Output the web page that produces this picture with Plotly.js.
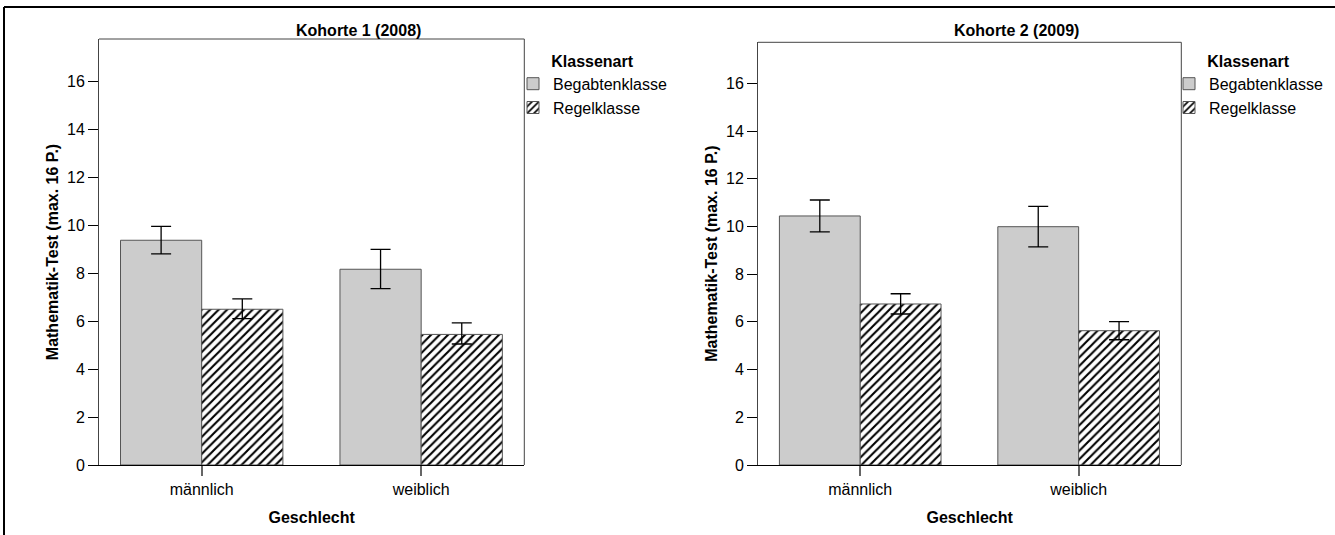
<!DOCTYPE html>
<html>
<head>
<meta charset="utf-8">
<script src="https://cdn.plot.ly/plotly-3.0.1.min.js"></script>
<style>html,body{margin:0;padding:0;background:#fff;}#chart{width:1335px;height:535px;}</style>
</head>
<body>
<div id="chart"></div>
<script>
// ---- data ----
const categories = ["männlich", "weiblich"];
const seriesNames = ["Begabtenklasse", "Regelklasse"];

// Kohorte 1 (2008)
const k1Begabten = [9.38, 8.17];
const k1BegabtenLow = [8.81, 7.36];
const k1BegabtenHigh = [9.96, 9.00];
const k1Regel = [6.50, 5.45];
const k1RegelLow = [6.11, 5.05];
const k1RegelHigh = [6.93, 5.93];

// Kohorte 2 (2009)
const k2Begabten = [10.44, 9.99];
const k2BegabtenLow = [9.77, 9.14];
const k2BegabtenHigh = [11.11, 10.84];
const k2Regel = [6.75, 5.63];
const k2RegelLow = [6.33, 5.25];
const k2RegelHigh = [7.18, 6.01];

const panelTitles = ["Kohorte 1 (2008)", "Kohorte 2 (2009)"];
const yTitle = "Mathematik-Test (max. 16 P.)";
const xTitle = "Geschlecht";
const legendTitle = "Klassenart";
const yTickVals = [0, 2, 4, 6, 8, 10, 12, 14, 16];

// ---- helpers ----
const FONT = "Liberation Sans, Arial, Helvetica, sans-serif";
function errBar(mean, low, high) {
  return {
    type: "data", symmetric: false,
    array: high.map((h, i) => h - mean[i]),
    arrayminus: mean.map((m, i) => m - low[i]),
    color: "#000", thickness: 1.3, width: 10
  };
}
function barTrace(name, vals, low, high, axis, legend, hatched, show) {
  const marker = hatched
    ? {color: "#ffffff", line: {color: "#555", width: 1},
       pattern: {shape: "/", fgcolor: "#000", bgcolor: "#ffffff", size: 6, solidity: 0.35, fillmode: "replace"}}
    : {color: "#cccccc", line: {color: "#555", width: 1}};
  return {
    type: "bar", name: name, x: categories, y: vals,
    xaxis: axis[0], yaxis: axis[1], legend: legend,
    marker: marker, error_y: errBar(vals, low, high),
    showlegend: show, hoverinfo: "skip"
  };
}

const traces = [
  barTrace(seriesNames[0], k1Begabten, k1BegabtenLow, k1BegabtenHigh, ["x", "y"], "legend", false, true),
  barTrace(seriesNames[1], k1Regel, k1RegelLow, k1RegelHigh, ["x", "y"], "legend", true, true),
  barTrace(seriesNames[0], k2Begabten, k2BegabtenLow, k2BegabtenHigh, ["x2", "y2"], "legend2", false, true),
  barTrace(seriesNames[1], k2Regel, k2RegelLow, k2RegelHigh, ["x2", "y2"], "legend2", true, true)
];

const W = 1335, H = 535;
function xaxisCfg(domain) {
  return {
    domain: domain, type: "category", range: [-0.468, 1.47],
    showline: true, linecolor: "#000", linewidth: 1, mirror: false,
    ticks: "outside", ticklen: 10, tickwidth: 2, tickcolor: "#666",
    tickfont: {family: FONT, size: 16, color: "#000"},
    title: {text: "<b>" + xTitle + "</b>", font: {family: FONT, size: 16, color: "#000"}, standoff: 14},
    showgrid: false, zeroline: false, fixedrange: true, automargin: false
  };
}
function yaxisCfg(domain, top, anchor) {
  return {
    domain: domain, range: [0, top], anchor: anchor,
    tickvals: yTickVals, ticktext: yTickVals.map(String),
    showline: true, linecolor: "#444", linewidth: 1, mirror: false,
    ticks: "outside", ticklen: 10, tickwidth: 1, tickcolor: "#000",
    tickfont: {family: FONT, size: 16, color: "#000"},
    title: {text: "<b>" + yTitle + "</b>", font: {family: FONT, size: 16, color: "#000"}, standoff: 4},
    showgrid: false, zeroline: false, fixedrange: true, automargin: false
  };
}
function legendCfg(xLeft) {
  return {
    x: xLeft / W, y: 1 - 46 / H, xanchor: "left", yanchor: "top",
    title: {text: "<b>" + legendTitle + "</b>", side: "top center", font: {family: FONT, size: 16, color: "#000"}},
    font: {family: FONT, size: 16, color: "#000"},
    bgcolor: "rgba(0,0,0,0)", borderwidth: 0, traceorder: "normal",
    itemclick: false, itemdoubleclick: false
  };
}

const x1dom = [99 / W, 524.3 / W], x2dom = [758 / W, 1181.3 / W];
const ybottom = 1 - 465 / H;
const layout = {
  width: W, height: H,
  margin: {l: 0, r: 0, t: 0, b: 0},
  paper_bgcolor: "#fff", plot_bgcolor: "#fff",
  font: {family: FONT, size: 16, color: "#000"},
  barmode: "group", bargap: 0.26, bargroupgap: 0,
  showlegend: true,
  xaxis: Object.assign(xaxisCfg(x1dom), {anchor: "y"}),
  yaxis: yaxisCfg([ybottom, 1 - 39 / H], 17.78, "x"),
  xaxis2: Object.assign(xaxisCfg(x2dom), {anchor: "y2"}),
  yaxis2: yaxisCfg([ybottom, 1 - 42.3 / H], 17.72, "x2"),
  legend: legendCfg(513),
  legend2: legendCfg(1169),
  annotations: [
    {text: "<b>" + panelTitles[0] + "</b>", xref: "paper", yref: "paper", x: 358 / W, y: 1 - 30 / H,
     xanchor: "center", yanchor: "middle", showarrow: false, font: {family: FONT, size: 16, color: "#000"}},
    {text: "<b>" + panelTitles[1] + "</b>", xref: "paper", yref: "paper", x: 1016 / W, y: 1 - 30 / H,
     xanchor: "center", yanchor: "middle", showarrow: false, font: {family: FONT, size: 16, color: "#000"}}
  ],
  shapes: [
    // right/top frame edges of the plot areas
    {type: "line", xref: "x domain", yref: "y domain", x0: 0, x1: 1, y0: 1, y1: 1, line: {color: "#444", width: 1}},
    {type: "line", xref: "x domain", yref: "y domain", x0: 1, x1: 1, y0: 0, y1: 1, line: {color: "#444", width: 1}},
    {type: "line", xref: "x2 domain", yref: "y2 domain", x0: 0, x1: 1, y0: 1, y1: 1, line: {color: "#444", width: 1}},
    {type: "line", xref: "x2 domain", yref: "y2 domain", x0: 1, x1: 1, y0: 0, y1: 1, line: {color: "#444", width: 1}},
    // outer figure border (top and left)
    {type: "line", xref: "paper", yref: "paper", x0: 4 / W, x1: 1, y0: 1 - 7 / H, y1: 1 - 7 / H, line: {color: "#000", width: 2}},
    {type: "line", xref: "paper", yref: "paper", x0: 4 / W, x1: 4 / W, y0: 0, y1: 1 - 7 / H, line: {color: "#000", width: 2}}
  ]
};

Plotly.newPlot("chart", traces, layout, {displayModeBar: false, staticPlot: true});
</script>
</body>
</html>
